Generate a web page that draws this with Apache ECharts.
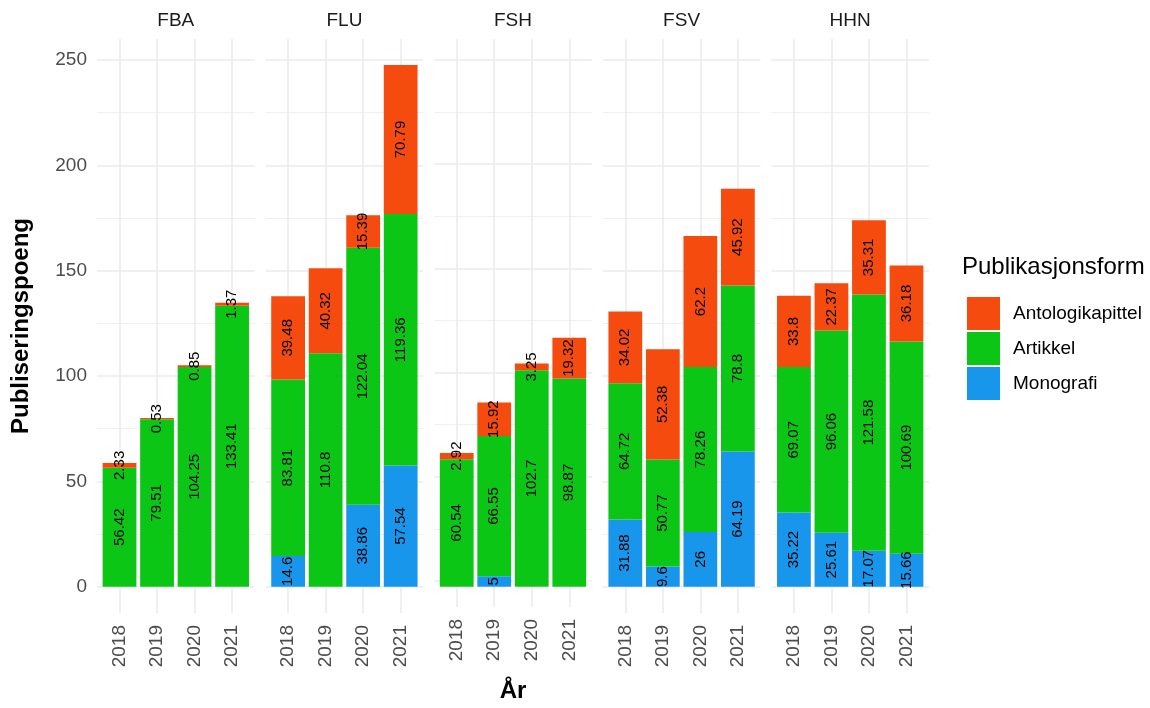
<!DOCTYPE html>
<html>
<head>
<meta charset="utf-8">
<script src="https://cdn.jsdelivr.net/npm/echarts@6/dist/echarts.min.js"></script>
<style>
  html, body { margin: 0; padding: 0; background: #fff; }
  #chart { width: 1150px; height: 708px; }
</style>
</head>
<body>
<div id="chart"></div>
<script>
// kategorier
var fakulteter = ['FBA', 'FLU', 'FSH', 'FSV', 'HHN'];
var aar = ['2018', '2019', '2020', '2021'];
var former = ['Antologikapittel', 'Artikkel', 'Monografi'];

// publiseringspoeng per fakultet, 2018-2021 (null = ingen)
var monografi = {
  FBA: [null, null, null, null],
  FLU: [14.6, null, 38.86, 57.54],
  FSH: [null, 5, null, null],
  FSV: [31.88, 9.6, 26, 64.19],
  HHN: [35.22, 25.61, 17.07, 15.66]
};
var artikkel = {
  FBA: [56.42, 79.51, 104.25, 133.41],
  FLU: [83.81, 110.8, 122.04, 119.36],
  FSH: [60.54, 66.55, 102.7, 98.87],
  FSV: [64.72, 50.77, 78.26, 78.8],
  HHN: [69.07, 96.06, 121.58, 100.69]
};
var antologi = {
  FBA: [2.33, 0.53, 0.85, 1.37],
  FLU: [39.48, 40.32, 15.39, 70.79],
  FSH: [2.92, 15.92, 3.25, 19.32],
  FSV: [34.02, 52.38, 62.2, 45.92],
  HHN: [33.8, 22.37, 35.31, 36.18]
};

var farger = {
  'Antologikapittel': '#F54B0E',
  'Artikkel': '#0BC614',
  'Monografi': '#1796EC'
};

var chart = echarts.init(document.getElementById('chart'));

var panelLeft = 97, panelPitch = 168.6, panelWidth = 157.6;
var panelTop = 39, panelBottom = 95; // 708 - 613
var innerPad = panelWidth * 0.1 / 4.2; // ggplot: 0.6 vs 0.5 band padding
var yMin = -12.5, yMax = 260;

var grids = [], xAxes = [], yAxes = [], series = [], graphics = [];

fakulteter.forEach(function (fak, g) {
  var left = panelLeft + g * panelPitch;
  // ytre rutenett (linjer og etiketter)
  grids.push({ left: left, width: panelWidth, top: panelTop, bottom: panelBottom });
  // indre rutenett (søyler)
  grids.push({ left: left + innerPad, width: panelWidth - 2 * innerPad, top: panelTop, bottom: panelBottom });

  xAxes.push({
    type: 'value', gridIndex: 2 * g, min: 0.4, max: 4.6, minInterval: 1, maxInterval: 1,
    axisLine: { show: false }, axisTick: { show: false },
    splitLine: { show: true, showMinLine: false, showMaxLine: false, lineStyle: { color: '#EBEBEB', width: 1.6 } },
    axisLabel: {
      rotate: 90, margin: 12, fontSize: 19, color: '#4D4D4D', fontFamily: 'Liberation Sans',
      showMinLabel: false, showMaxLabel: false,
      formatter: function (v) { return Number.isInteger(v) ? aar[v - 1] : ''; }
    },
    name: g === 2 ? 'År' : '',
    nameLocation: 'middle', nameGap: 72,
    nameTextStyle: { fontSize: 24, fontWeight: 'bold', color: '#000', fontFamily: 'Liberation Sans' }
  });
  xAxes.push({
    type: 'category', gridIndex: 2 * g + 1, data: aar, show: false
  });

  // hovedlinjer + etiketter
  yAxes.push({
    type: 'value', gridIndex: 2 * g, min: yMin, max: yMax, interval: 12.5,
    axisLine: { show: false }, axisTick: { show: false },
    splitLine: { show: true, lineStyle: { color: ['transparent', '#EBEBEB', 'transparent', 'transparent'], width: 1.6 } },
    axisLabel: {
      show: g === 0, margin: 10, fontSize: 19, color: '#4D4D4D', fontFamily: 'Liberation Sans',
      formatter: function (v) { return (v >= 0 && v % 50 === 0) ? String(v) : ''; }
    },
    name: g === 0 ? 'Publiseringspoeng' : '',
    nameLocation: 'middle', nameGap: 64, nameRotate: 90,
    nameTextStyle: { fontSize: 24, fontWeight: 'bold', color: '#000', fontFamily: 'Liberation Sans' }
  });
  // hjelpelinjer
  yAxes.push({
    type: 'value', gridIndex: 2 * g, min: yMin, max: yMax, interval: 12.5,
    axisLine: { show: false }, axisTick: { show: false }, axisLabel: { show: false },
    splitLine: { show: true, lineStyle: { color: ['transparent', 'transparent', 'transparent', '#EBEBEB'], width: 0.8 } }
  });
  // akse for søylene
  yAxes.push({
    type: 'value', gridIndex: 2 * g + 1, min: yMin, max: yMax, show: false, splitLine: { show: false }
  });

  var lag = [
    ['Monografi', monografi[fak]],
    ['Artikkel', artikkel[fak]],
    ['Antologikapittel', antologi[fak]]
  ];
  lag.forEach(function (l) {
    series.push({
      name: l[0], type: 'bar', stack: 'panel' + g,
      xAxisIndex: 2 * g + 1, yAxisIndex: 3 * g + 2,
      barWidth: '90%',
      itemStyle: { color: farger[l[0]] },
      label: {
        show: true, position: 'inside', rotate: 90,
        fontSize: 15, color: '#000', fontFamily: 'Liberation Sans'
      },
      data: l[1].map(function (v) { return v == null ? '-' : v; })
    });
  });

  graphics.push({
    type: 'text', x: left + panelWidth / 2, y: 21,
    style: { text: fak, textAlign: 'center', textVerticalAlign: 'middle', font: '19px "Liberation Sans"', fill: '#1A1A1A' }
  });
});

graphics.push({
  type: 'text', x: 962, y: 267,
  style: { text: 'Publikasjonsform', textAlign: 'left', textVerticalAlign: 'middle', font: '24px "Liberation Sans"', fill: '#000' }
});

chart.setOption({
  animation: false,
  textStyle: { fontFamily: 'Liberation Sans' },
  grid: grids,
  xAxis: xAxes,
  yAxis: yAxes,
  legend: {
    data: former, orient: 'vertical', left: 962, top: 292,
    itemWidth: 33, itemHeight: 33, itemGap: 2, icon: 'rect',
    textStyle: { fontSize: 19, color: '#000', padding: [0, 0, 0, 8] }
  },
  graphic: graphics,
  series: series
});
</script>
</body>
</html>
